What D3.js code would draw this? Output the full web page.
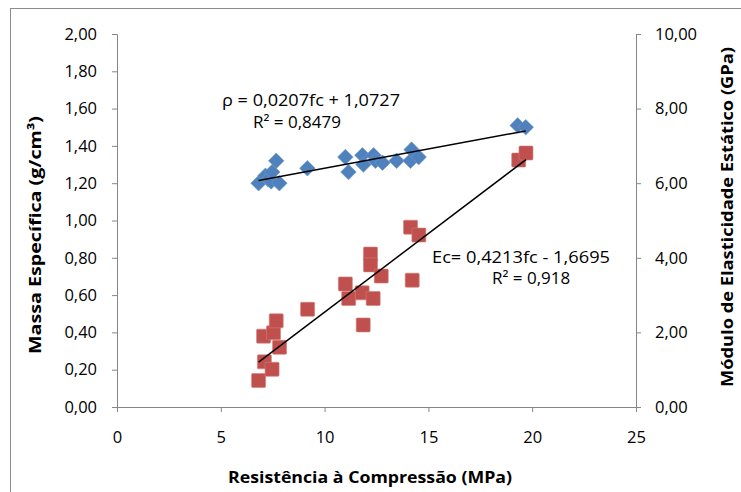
<!DOCTYPE html>
<html>
<head>
<meta charset="utf-8">
<script src="https://cdn.jsdelivr.net/npm/d3@7"></script>
<style>
  body { margin: 0; background: #fff; }
  svg text { font-family: "Open Sans", "Noto Sans", sans-serif; fill: #000; }
</style>
</head>
<body>
<script>
const w = 741;
const h = 492;

// massa especifica (blue diamonds)
const fcRho = [6.82, 7.15, 7.29, 7.43, 7.48, 7.67, 7.82, 9.17, 11.0, 11.15, 11.82, 11.87, 12.36, 12.45, 12.79, 13.47, 14.14, 14.19, 14.53, 19.3, 19.69];
const rho   = [1.20, 1.24, 1.22, 1.21, 1.26, 1.32, 1.20, 1.28, 1.34, 1.26, 1.35, 1.30, 1.35, 1.32, 1.31, 1.32, 1.32, 1.38, 1.34, 1.51, 1.50];

// modulo de elasticidade (red squares)
const fcE = [6.82, 7.1, 7.47, 7.06, 7.54, 7.67, 7.83, 9.18, 11.0, 11.16, 11.81, 12.34, 12.21, 12.21, 12.73, 11.86, 14.14, 14.54, 14.22, 19.35, 19.7];
const ec  = [0.71, 1.21, 1.01, 1.90, 1.99, 2.31, 1.60, 2.62, 3.30, 2.91, 3.06, 2.91, 4.10, 3.81, 3.51, 2.20, 4.82, 4.61, 3.40, 6.62, 6.81];

const xTicks = [0, 5, 10, 15, 20, 25];
const yLeftTicks = [0, 0.2, 0.4, 0.6, 0.8, 1.0, 1.2, 1.4, 1.6, 1.8, 2.0];
const yRightTicks = [0, 2, 4, 6, 8, 10];

// regression coefficients printed on the chart
const rhoFit = [0.0207, 1.0727];
const ecFit = [0.4213, -1.6695];

const ptBr = d3.formatLocale({decimal: ",", thousands: ".", grouping: [3], currency: ["", ""]});
const f2 = ptBr.format(".2f");

const xScale = d3.scaleLinear().domain([0, 25]).range([117, 636]);
const yLeft = d3.scaleLinear().domain([0, 2]).range([407, 34]);
const yRight = d3.scaleLinear().domain([0, 10]).range([407, 34]);

const svg = d3.select("body").append("svg")
  .attr("width", w)
  .attr("height", h);

svg.append("rect")
  .attr("x", 10.5).attr("y", 8.5)
  .attr("width", 800).attr("height", 600)
  .attr("fill", "none")
  .attr("stroke", "#8c8c8c");

const axisColor = "#868686";

const xAxis = d3.axisBottom(xScale).tickValues(xTicks).tickSize(5).tickPadding(19).tickFormat(d3.format("d"));
const yAxisL = d3.axisLeft(yLeft).tickValues(yLeftTicks).tickSize(5).tickPadding(15).tickFormat(f2);
const yAxisR = d3.axisRight(yRight).tickValues(yRightTicks).tickSize(5).tickPadding(14).tickFormat(f2);

function styleAxis(g) {
  g.selectAll("path, line").attr("stroke", axisColor);
  g.selectAll("text").attr("font-size", 16.5).attr("font-family", "Open Sans, sans-serif");
}

svg.append("g").attr("transform", "translate(0,407)").call(xAxis).call(styleAxis);
svg.append("g").attr("transform", "translate(117,0)").call(yAxisL).call(styleAxis);
svg.append("g").attr("transform", "translate(636,0)").call(yAxisR).call(styleAxis);

// markers
svg.selectAll(".sq")
  .data(d3.range(fcE.length))
  .enter()
  .append("rect")
  .attr("class", "sq")
  .attr("x", i => xScale(fcE[i]) - 7)
  .attr("y", i => yRight(ec[i]) - 7)
  .attr("width", 14).attr("height", 14)
  .attr("rx", 1)
  .attr("fill", "#C0504D")
  .attr("stroke", "#d37d7a").attr("stroke-width", 0.6);

svg.selectAll(".dm")
  .data(d3.range(fcRho.length))
  .enter()
  .append("path")
  .attr("class", "dm")
  .attr("d", i => {
    const cx = xScale(fcRho[i]), cy = yLeft(rho[i]), r = 7.8;
    return `M${cx},${cy - r}L${cx + r},${cy}L${cx},${cy + r}L${cx - r},${cy}Z`;
  })
  .attr("fill", "#4F81BD")
  .attr("stroke", "#6f98cb").attr("stroke-width", 0.6);

// trend lines (linear fits over each series' range)
const rhoExt = d3.extent(fcRho);
const ecExt = d3.extent(fcE);
const line = d3.line();

svg.append("path")
  .attr("d", line(ecExt.map(x => [xScale(x), yRight(ecFit[0] * x + ecFit[1])])))
  .attr("stroke", "#000").attr("stroke-width", 1.5).attr("fill", "none");
svg.append("path")
  .attr("d", line(rhoExt.map(x => [xScale(x), yLeft(rhoFit[0] * x + rhoFit[1])])))
  .attr("stroke", "#000").attr("stroke-width", 1.5).attr("fill", "none");

// equations
function label(x, y, len, txt) {
  const t = svg.append("text").attr("x", x).attr("y", y).attr("font-size", 17).text(txt);
  if (len) t.attr("textLength", len).attr("lengthAdjust", "spacingAndGlyphs");
}
label(222, 106, 178, "ρ = 0,0207fc + 1,0727");
label(253, 128, 0, "R² = 0,8479");
label(432, 263, 178, "Ec= 0,4213fc - 1,6695");
label(492, 284, 0, "R² = 0,918");

// axis titles
function title(tr, len, txt) {
  svg.append("text")
    .attr("transform", tr)
    .attr("text-anchor", "middle")
    .attr("font-size", 16.5).attr("font-weight", "bold")
    .attr("textLength", len).attr("lengthAdjust", "spacingAndGlyphs")
    .text(txt);
}
title("translate(370,483)", 284, "Resistência à Compressão (MPa)");
title("translate(41,235) rotate(-90)", 238, "Massa Específica (g/cm³)");
title("translate(733,217) rotate(-90)", 340, "Módulo de Elasticidade Estático (GPa)");
</script>
</body>
</html>
